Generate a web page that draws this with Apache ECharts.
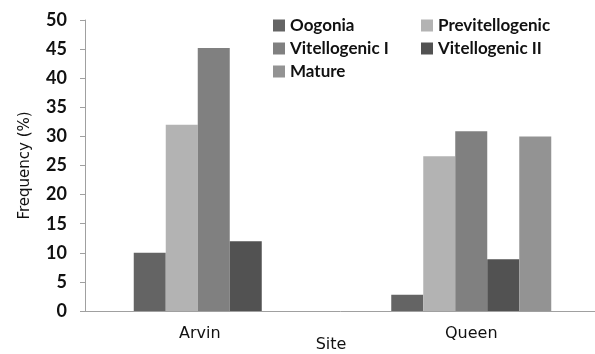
<!DOCTYPE html>
<html>
<head>
<meta charset="utf-8">
<script src="https://cdn.jsdelivr.net/npm/echarts@6/dist/echarts.min.js"></script>
<style>
html, body { margin: 0; padding: 0; background: #fff; }
#main { width: 595px; height: 354px; }
</style>
</head>
<body>
<div id="main"></div>
<script>
// sites and stages
var sites = ["Arvin", "Queen"];
var stages = ["Oogonia", "Previtellogenic", "Vitellogenic I", "Vitellogenic II", "Mature"];
var colors = ["#646464", "#b3b3b3", "#808080", "#525252", "#939393"];

// frequency (%) per stage, [Arvin, Queen]
var oogonia = [10, 2.8];
var previtellogenic = [32, 26.6];
var vitellogenic1 = [45.2, 30.9];
var vitellogenic2 = [12, 8.9];
var mature = [0, 30];

var yTicks = {min: 0, max: 50, interval: 5};

var chart = echarts.init(document.getElementById("main"));
var values = [oogonia, previtellogenic, vitellogenic1, vitellogenic2, mature];

var legendText = {fontFamily: "Lato", fontSize: 17, fontWeight: "bold", color: "#111"};

var option = {
    color: colors,
    animation: false,
    grid: {left: 85, right: -5, top: 20, bottom: 43, containLabel: false, outerBoundsMode: "none"},
    legend: [{
        orient: "vertical",
        left: 268, top: 12,
        itemWidth: 12, itemHeight: 12, itemGap: 6,
        icon: "rect",
        itemStyle: {borderWidth: 0},
        textStyle: legendText,
        data: ["Oogonia", "Vitellogenic I", "Mature"]
    }, {
        orient: "vertical",
        left: 416, top: 12,
        itemWidth: 12, itemHeight: 12, itemGap: 6,
        icon: "rect",
        itemStyle: {borderWidth: 0},
        textStyle: legendText,
        data: ["Previtellogenic", "Vitellogenic II"]
    }],
    xAxis: {
        type: "category",
        data: sites,
        name: "Site",
        nameLocation: "middle",
        nameGap: 26,
        nameMoveOverlap: false,
        nameTextStyle: {fontFamily: "DejaVu Sans", fontSize: 16, color: "#111", padding: [0, 23, 0, 0]},
        axisLine: {lineStyle: {color: "#a0a0a0", width: 1}},
        axisTick: {show: false},
        axisLabel: {
            fontFamily: "DejaVu Sans", fontSize: 16, color: "#111", margin: 15,
            formatter: function (v) {
                return v === "Arvin" ? "{a|" + v + "}" : v;
            },
            rich: {a: {fontFamily: "DejaVu Sans", fontSize: 16, color: "#111", padding: [0, 28, 0, 0]}}
        }
    },
    yAxis: {
        type: "value",
        min: yTicks.min, max: yTicks.max, interval: yTicks.interval,
        name: "Frequency (%)",
        nameLocation: "middle",
        nameGap: 52,
        nameMoveOverlap: false,
        nameTextStyle: {fontFamily: "DejaVu Sans", fontSize: 15, color: "#111"},
        axisLine: {show: true, lineStyle: {color: "#a0a0a0", width: 1}},
        axisTick: {show: true, length: 5, lineStyle: {color: "#a0a0a0"}},
        splitLine: {show: false},
        axisLabel: {fontFamily: "Lato", fontSize: 18, fontWeight: "bold", color: "#111", margin: 18}
    },
    series: stages.map(function (name, i) {
        return {
            name: name,
            type: "bar",
            barWidth: 32,
            barGap: "0%",
            data: values[i]
        };
    })
};
chart.setOption(option);
</script>
</body>
</html>
